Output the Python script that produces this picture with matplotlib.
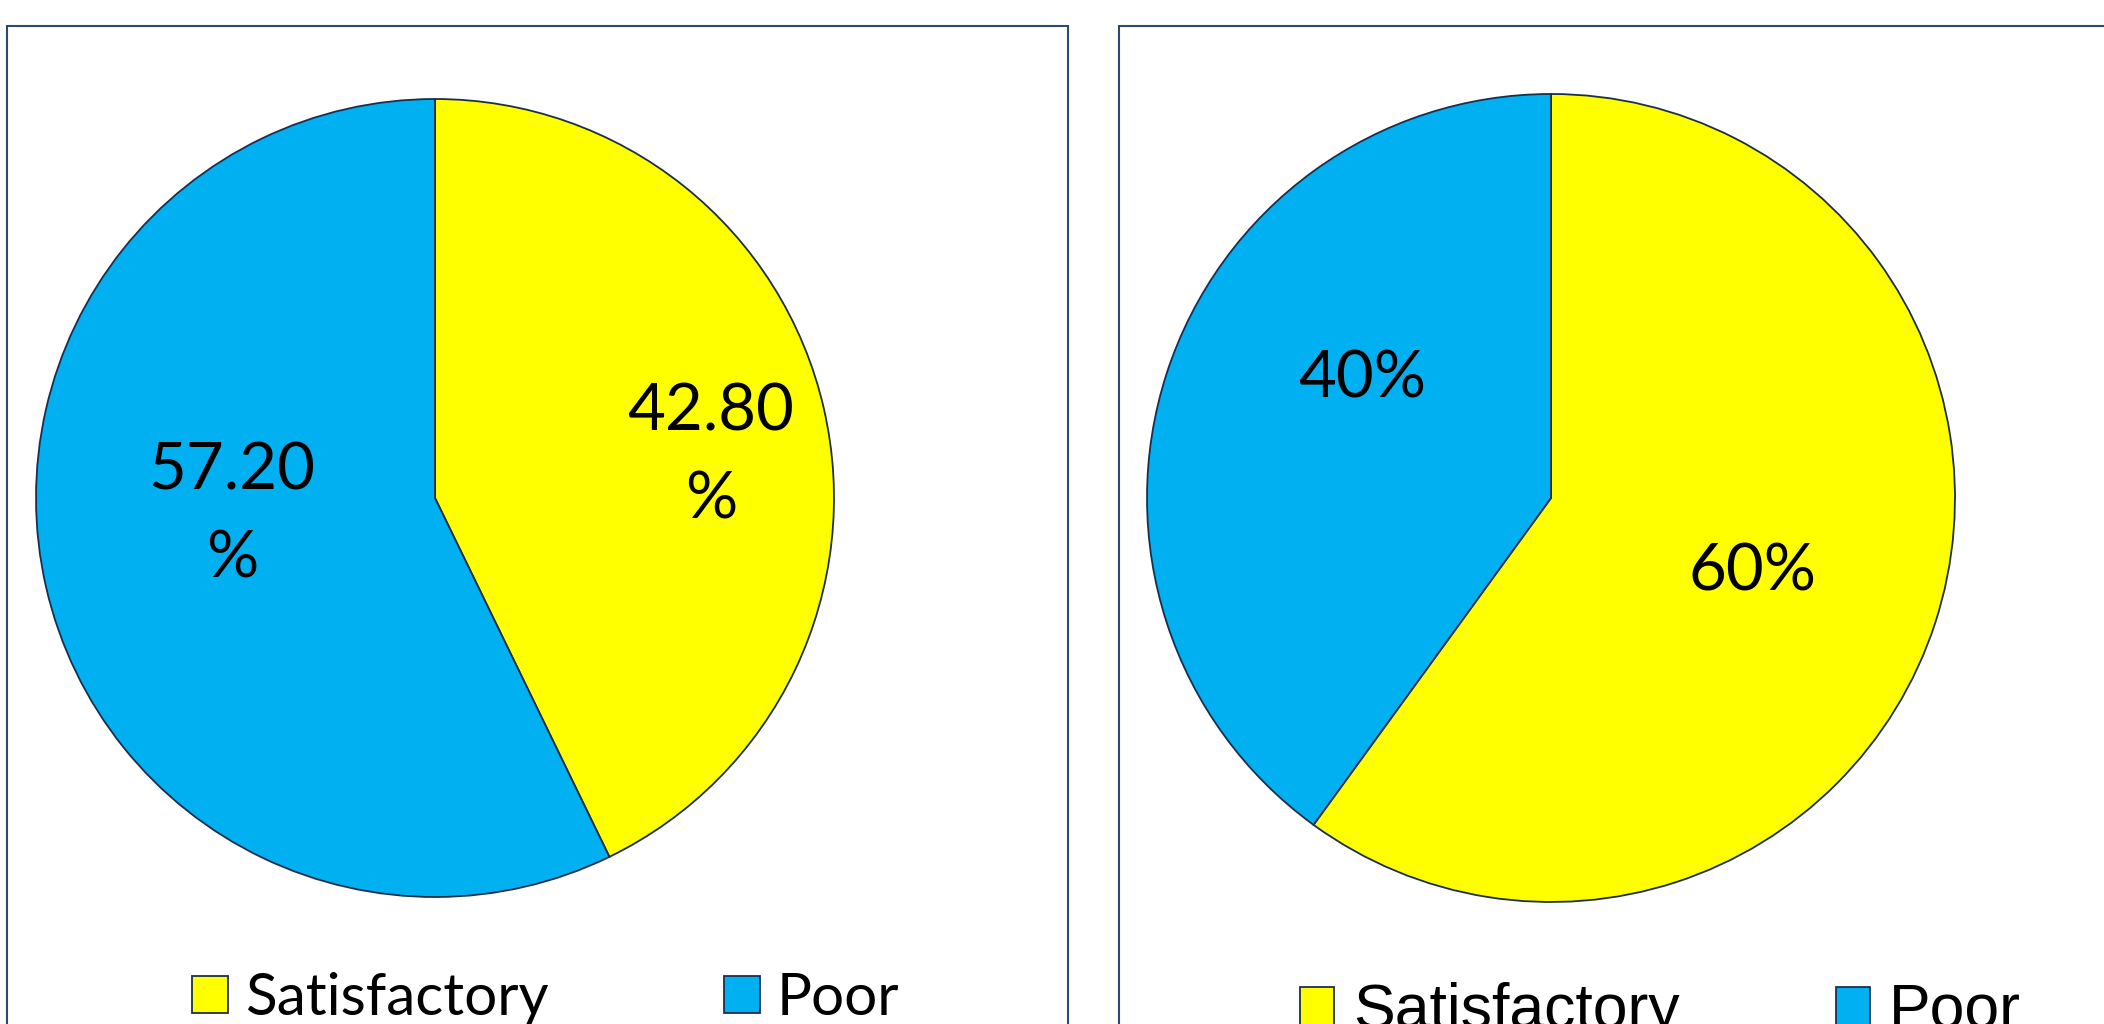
import matplotlib.pyplot as plt
from matplotlib.patches import Rectangle

W, H = 2104, 1024

categories = ['Satisfactory', 'Poor']
left_values = [42.80, 57.20]
right_values = [60, 40]
colors = ['#FFFF00', '#00B0F0']

EDGE = '#1B2F4D'
FRAME = '#2B4A6E'


def pie_axes(fig, cx, cy, r):
    # square axes placed in pixel terms (cy measured from the top)
    return fig.add_axes([(cx - r) / W, (H - cy - r) / H, 2 * r / W, 2 * r / H])


def draw_pie(ax, values, fmt, label_pos, font):
    wedges, _ = ax.pie(values, colors=colors, startangle=90, counterclock=False,
                       wedgeprops=dict(edgecolor=EDGE, linewidth=1.3))
    for v, (x, y) in zip(values, label_pos):
        ax.text(x, y, fmt % v, ha='center', va='center', fontsize=47,
                family=font, linespacing=1.6, color='black')
    ax.set_xlim(-1, 1)
    ax.set_ylim(-1, 1)
    ax.axis('off')
    return wedges


fig = plt.figure(figsize=(W / 100, H / 100), dpi=100)

# panel frames, running off the bottom / right of the canvas
fig.patches.append(Rectangle((7 / W, -0.1), (1068 - 7) / W, (H - 26) / H + 0.1,
                             transform=fig.transFigure, fill=False,
                             edgecolor=FRAME, linewidth=1.5))
fig.patches.append(Rectangle((1119 / W, -0.1), 1.1, (H - 26) / H + 0.1,
                             transform=fig.transFigure, fill=False,
                             edgecolor=FRAME, linewidth=1.5))

ax1 = pie_axes(fig, 435, 498, 399)
w1 = draw_pie(ax1, left_values, '%.2f\n%%', [(0.692, 0.105), (-0.509, -0.042)], 'Lato')

ax2 = pie_axes(fig, 1551, 498, 404)
w2 = draw_pie(ax2, right_values, '%d%%', [(0.498, -0.183), (-0.468, 0.295)], 'Lato')

fig.legend(w1, categories, ncol=2, frameon=False, loc='upper left',
           bbox_to_anchor=(192 / W, (H - 972) / H),
           prop=dict(family='Lato', size=42),
           handlelength=0.62, handleheight=0.62, handletextpad=0.29,
           columnspacing=3.0, borderpad=0, borderaxespad=0)

fig.legend(w2, categories, ncol=2, frameon=False, loc='upper left',
           bbox_to_anchor=(1300 / W, (H - 982) / H),
           prop=dict(family='Liberation Sans', size=45),
           handlelength=0.55, handleheight=0.55, handletextpad=0.3,
           columnspacing=2.5, borderpad=0, borderaxespad=0)

fig.savefig('out.png', dpi=100)
